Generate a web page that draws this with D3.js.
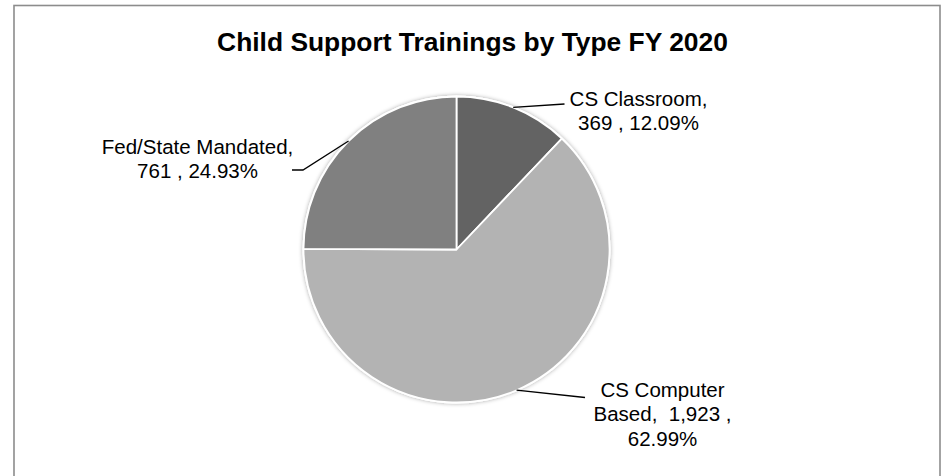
<!DOCTYPE html>
<html>
<head>
<meta charset="utf-8">
<script src="https://cdn.jsdelivr.net/npm/d3@7"></script>
<style>
  body { margin: 0; background: #fff; }
  svg { display: block; font-family: "Liberation Sans", Arial, sans-serif; }
</style>
</head>
<body>
<svg width="947" height="476"></svg>
<script>
// data
const categories = ['CS Classroom', 'CS Computer Based', 'Fed/State Mandated'];
const values = [369, 1923, 761];
const colors = ['#636363', '#b3b3b3', '#808080'];

// label text lines (how Excel wrapped them)
const labelLines = [
  d => [`CS Classroom,`, `${d3.format(',')(d.value)} , ${d.pct}`],
  d => [`CS Computer`, `Based,  ${d3.format(',')(d.value)} ,`, `${d.pct}`],
  d => [`Fed/State Mandated,`, `${d3.format(',')(d.value)} , ${d.pct}`]
];
// label anchors relative to the pie centre: text centre x, first baseline y, leader end points
const labelPos = [
  { tx: 182, ty: -144, leader: [[108, -145.5]] },
  { tx: 206, ty: 147.5, leader: [[128.5, 148]] },
  { tx: -259, ty: -96, leader: [[-153.5, -79.5], [-164.5, -79.5]] }
];

const svg = d3.select('svg');

const cx = 456.5, cy = 249.5, radius = 153;

// frame
svg.append('rect')
  .attr('x', 14).attr('y', 5.5)
  .attr('width', 926).attr('height', 480)
  .attr('fill', '#fff')
  .attr('stroke', '#8c8c8c')
  .attr('stroke-width', 1.6);

const defs = svg.append('defs');
const shadow = defs.append('filter').attr('id', 'shadow')
  .attr('x', '-10%').attr('y', '-10%').attr('width', '120%').attr('height', '120%');
shadow.append('feDropShadow')
  .attr('dx', 0).attr('dy', 0)
  .attr('stdDeviation', 2.2)
  .attr('flood-color', '#000')
  .attr('flood-opacity', 0.35);

svg.append('text')
  .attr('x', 472.5).attr('y', 51)
  .attr('text-anchor', 'middle')
  .attr('font-size', 26.4)
  .attr('font-weight', 'bold')
  .attr('fill', '#000')
  .text('Child Support Trainings by Type FY 2020');

const total = d3.sum(values);
const rows = categories.map((c, i) => ({
  name: c,
  value: values[i],
  pct: d3.format('.2f')(values[i] / total * 100) + '%',
  i
}));

const pie = d3.pie().value(d => d.value).sort(null);
const arc = d3.arc().innerRadius(0).outerRadius(radius);
const arcs = pie(rows);

const g = svg.append('g').attr('transform', `translate(${cx},${cy})`);

g.append('circle')
  .attr('r', radius + 1)
  .attr('fill', '#fff')
  .attr('filter', 'url(#shadow)');

g.selectAll('path.slice').data(arcs)
  .enter().append('path')
  .attr('class', 'slice')
  .attr('d', arc)
  .attr('fill', d => colors[d.data.i])
  .attr('stroke', '#fff')
  .attr('stroke-width', 1.8)
  .attr('stroke-linejoin', 'round');

// leader lines from the slice's mid angle on the rim
g.selectAll('polyline.leader').data(arcs)
  .enter().append('polyline')
  .attr('class', 'leader')
  .attr('points', d => {
    const a = (d.startAngle + d.endAngle) / 2;
    const p0 = [radius * Math.sin(a), -radius * Math.cos(a)];
    return [p0].concat(labelPos[d.data.i].leader).map(p => p.join(',')).join(' ');
  })
  .attr('fill', 'none')
  .attr('stroke', '#000')
  .attr('stroke-width', 1.3);

const labels = g.selectAll('text.lbl').data(arcs)
  .enter().append('text')
  .attr('class', 'lbl')
  .attr('text-anchor', 'middle')
  .attr('font-size', 20.5)
  .attr('fill', '#000')
  .style('white-space', 'pre');

labels.each(function(d) {
  const pos = labelPos[d.data.i];
  d3.select(this).selectAll('tspan')
    .data(labelLines[d.data.i](d.data))
    .enter().append('tspan')
    .attr('x', pos.tx)
    .attr('y', (t, j) => pos.ty + j * 24.3)
    .text(t => t);
});
</script>
</body>
</html>
